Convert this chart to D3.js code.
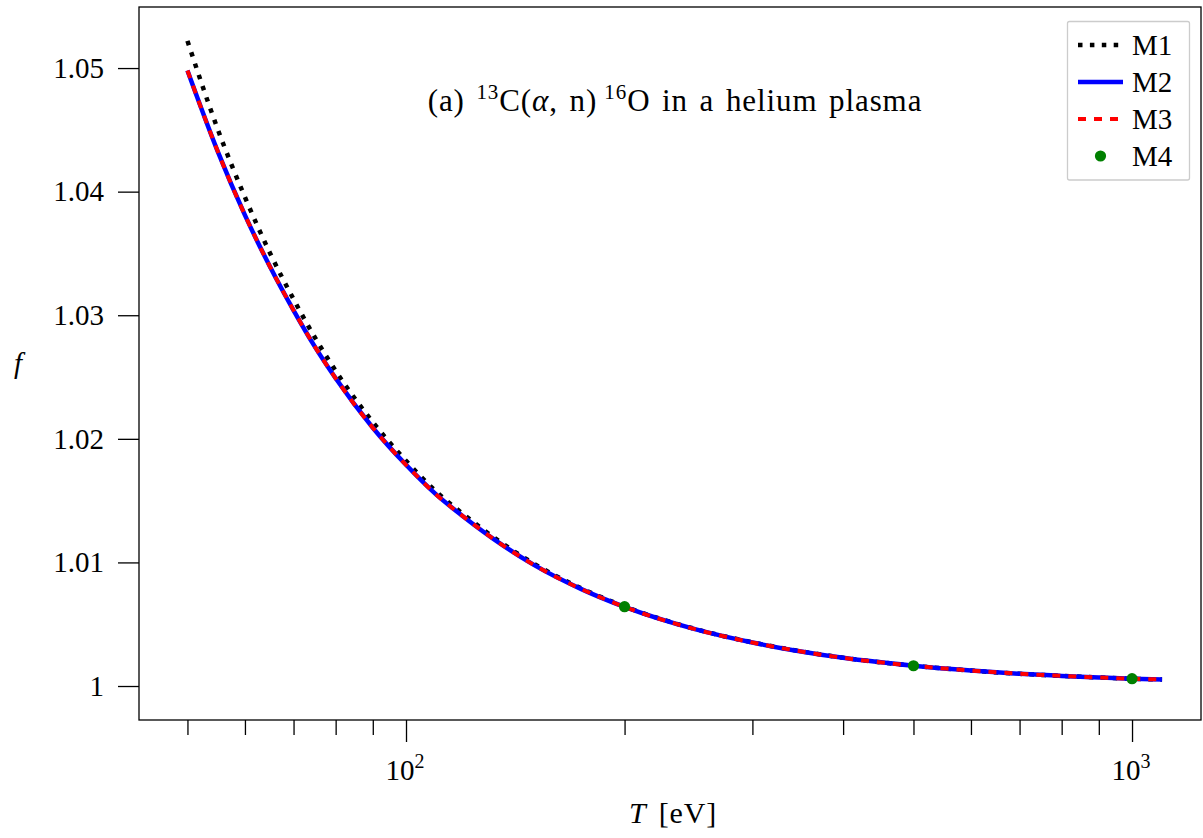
<!DOCTYPE html>
<html>
<head>
<meta charset="utf-8">
<script src="https://cdn.jsdelivr.net/npm/d3@7"></script>
<style>
  html, body { margin: 0; padding: 0; background: #fff; }
  svg { display: block; }
  text { font-family: "Liberation Serif", "Times New Roman", serif; fill: #000; }
</style>
</head>
<body>
<svg id="chart" width="1203" height="838"></svg>
<script>
// ---------------- data ----------------
const temperatures = [50, 55, 60, 65, 70, 75, 80, 90, 100, 110, 120, 135, 150, 175, 200, 250, 300, 350, 400, 500, 600, 700, 800, 900, 1000, 1100];
const fM1 = [1.0522, 1.0451, 1.03955, 1.0350, 1.0313, 1.02815, 1.0255, 1.02135, 1.01822, 1.01574, 1.01389, 1.01163, 1.00990, 1.00786, 1.00644, 1.00462, 1.00353, 1.00281, 1.00229, 1.00164, 1.00125, 1.00099, 1.00082, 1.00069, 1.00059, 1.00053];
const fM2 = [1.0498, 1.0433, 1.0381, 1.0339, 1.0304, 1.0274, 1.0249, 1.0209, 1.0179, 1.0155, 1.0137, 1.0115, 1.0098, 1.0078, 1.0064, 1.0046, 1.00352, 1.00280, 1.00228, 1.00164, 1.00125, 1.00099, 1.00082, 1.00069, 1.00059, 1.00053];
const fM3 = [1.0498, 1.0433, 1.0381, 1.0339, 1.0304, 1.0274, 1.0249, 1.0209, 1.0179, 1.0155, 1.0137, 1.0115, 1.0098, 1.0078, 1.0064, 1.0046, 1.00352, 1.00280, 1.00228, 1.00164, 1.00125, 1.00099, 1.00082, 1.00069, 1.00059, 1.00053];
const tM4 = [200, 500, 1000];
const fM4 = [1.00642, 1.00164, 1.00059];

const seriesNames = ["M1", "M2", "M3", "M4"];
const yTickValues = [1, 1.01, 1.02, 1.03, 1.04, 1.05];
const yTickLabels = ["1", "1.01", "1.02", "1.03", "1.04", "1.05"];
const xMajorTicks = [100, 1000];
const xMajorExponents = ["2", "3"];
const xMinorTicks = [50, 60, 70, 80, 90, 200, 300, 400, 500, 600, 700, 800, 900];

// ---------------- layout ----------------
const svg = d3.select("#chart");
const plot = { left: 139, right: 1201, top: 7, bottom: 720 };
const FONT = 29;

const x = d3.scaleLog()
  .domain([Math.pow(10, 1.63223), Math.pow(10, 3.0950)])
  .range([plot.left, plot.right]);
const y = d3.scaleLinear()
  .domain([0.99725, 1.05494])
  .range([plot.bottom, plot.top]);

// ---------------- axes ----------------
const xAxisMajor = d3.axisBottom(x).tickValues(xMajorTicks).tickSize(22).tickFormat("");
const xAxisMinor = d3.axisBottom(x).tickValues(xMinorTicks).tickSize(15).tickFormat("");
const gxMaj = svg.append("g").attr("transform", `translate(0,${plot.bottom})`).call(xAxisMajor);
const gxMin = svg.append("g").attr("transform", `translate(0,${plot.bottom})`).call(xAxisMinor);
[gxMaj, gxMin].forEach(g => {
  g.select(".domain").remove();
  g.selectAll(".tick line").attr("stroke", "#000").attr("stroke-width", 1.3);
});

// x major labels 10^n
xMajorTicks.forEach((v, i) => {
  const t = svg.append("text")
    .attr("x", x(v) - 1)
    .attr("y", 780)
    .attr("text-anchor", "middle")
    .attr("font-size", FONT);
  t.append("tspan").text("10");
  t.append("tspan").attr("font-size", 20).attr("dy", -12).text(xMajorExponents[i]);
});

const yAxis = d3.axisLeft(y).tickValues(yTickValues).tickSize(21)
  .tickFormat((d, i) => yTickLabels[i]).tickPadding(14);
const gy = svg.append("g").attr("transform", `translate(${plot.left},0)`).call(yAxis);
gy.select(".domain").remove();
gy.selectAll(".tick line").attr("stroke", "#000").attr("stroke-width", 1.3);
gy.selectAll(".tick text")
  .attr("font-size", FONT)
  .attr("font-family", "Liberation Serif, Times New Roman, serif")
  .attr("fill", "#000");

// frame
svg.append("rect")
  .attr("x", plot.left).attr("y", plot.top)
  .attr("width", plot.right - plot.left).attr("height", plot.bottom - plot.top)
  .attr("fill", "none").attr("stroke", "#000").attr("stroke-width", 1.3);

// ---------------- lines ----------------
svg.append("clipPath").attr("id", "clip").append("rect")
  .attr("x", plot.left).attr("y", plot.top)
  .attr("width", plot.right - plot.left).attr("height", plot.bottom - plot.top);
const gPlot = svg.append("g").attr("clip-path", "url(#clip)");

const line = d3.line()
  .x(d => x(d[0]))
  .y(d => y(d[1]))
  .curve(d3.curveMonotoneX);

const zip = (a, b) => a.map((v, i) => [v, b[i]]);

gPlot.append("path").datum(zip(temperatures, fM1))
  .attr("d", line).attr("fill", "none")
  .attr("stroke", "#000").attr("stroke-width", 4.5)
  .attr("stroke-dasharray", "4.5,7.4");

gPlot.append("path").datum(zip(temperatures, fM2))
  .attr("d", line).attr("fill", "none")
  .attr("stroke", "#0000ff").attr("stroke-width", 4.5);

gPlot.append("path").datum(zip(temperatures, fM3))
  .attr("d", line).attr("fill", "none")
  .attr("stroke", "#ff0000").attr("stroke-width", 4)
  .attr("stroke-dasharray", "8,8");

gPlot.selectAll("circle.m4").data(zip(tM4, fM4)).enter()
  .append("circle").attr("class", "m4")
  .attr("cx", d => x(d[0])).attr("cy", d => y(d[1]))
  .attr("r", 5.6).attr("fill", "#008000");

// ---------------- title ----------------
const title = svg.append("text")
  .attr("x", 675).attr("y", 111)
  .attr("text-anchor", "middle")
  .attr("font-size", 31)
  .attr("letter-spacing", 0.9)
  .attr("word-spacing", 3);
title.append("tspan").text("(a) ");
title.append("tspan").attr("font-size", 21).attr("dy", -12).text("13");
title.append("tspan").attr("dy", 12).text("C(");
title.append("tspan").attr("font-style", "italic").text("α");
title.append("tspan").text(", n)\u2009");
title.append("tspan").attr("font-size", 21).attr("dy", -12).text("16");
title.append("tspan").attr("dy", 12).text("O in a helium plasma");

// ---------------- axis labels ----------------
const xl = svg.append("text")
  .attr("x", 673).attr("y", 823)
  .attr("text-anchor", "middle")
  .attr("font-size", 30)
  .attr("letter-spacing", 0.8)
  .attr("word-spacing", 4);
xl.append("tspan").attr("font-style", "italic").text("T");
xl.append("tspan").text(" [eV]");

svg.append("text")
  .attr("x", 18).attr("y", 373)
  .attr("text-anchor", "middle")
  .attr("font-size", FONT)
  .attr("font-style", "italic")
  .text("f");

// ---------------- legend ----------------
const legend = svg.append("g");
legend.append("rect")
  .attr("x", 1067.5).attr("y", 21.5)
  .attr("width", 122).attr("height", 158.5)
  .attr("rx", 2)
  .attr("fill", "#fff").attr("fill-opacity", 0.8)
  .attr("stroke", "#cccccc").attr("stroke-width", 1.3);

const legendStyles = [
  { type: "line", color: "#000", width: 4.5, dash: "4.5,7.4" },
  { type: "line", color: "#0000ff", width: 4.5, dash: null },
  { type: "line", color: "#ff0000", width: 4, dash: "8,8" },
  { type: "dot", color: "#008000" }
];
const legendRowY = [45, 82, 119, 156];
seriesNames.forEach((name, i) => {
  const st = legendStyles[i];
  const cy = legendRowY[i];
  if (st.type === "line") {
    const l = legend.append("line")
      .attr("x1", 1078).attr("x2", 1123)
      .attr("y1", cy).attr("y2", cy)
      .attr("stroke", st.color).attr("stroke-width", st.width);
    if (st.dash) l.attr("stroke-dasharray", st.dash);
  } else {
    legend.append("circle").attr("cx", 1100.5).attr("cy", cy).attr("r", 5.6).attr("fill", st.color);
  }
  legend.append("text")
    .attr("x", 1132).attr("y", cy + 10)
    .attr("font-size", FONT)
    .text(name);
});
</script>
</body>
</html>
